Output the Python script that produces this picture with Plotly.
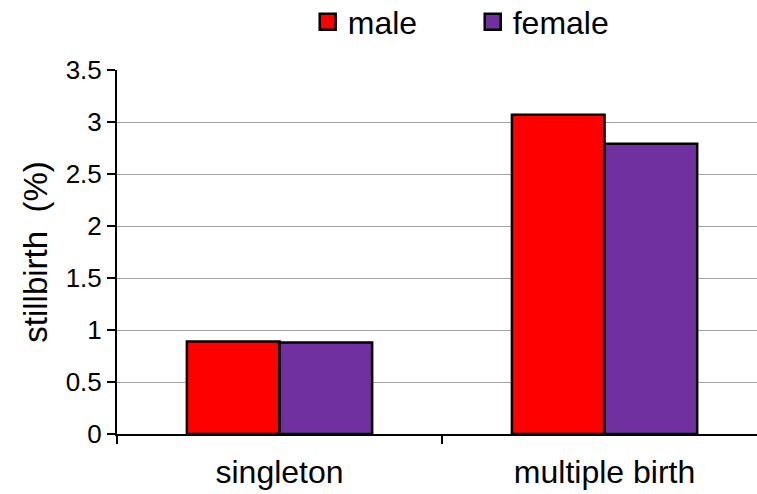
import plotly.graph_objects as go

categories = ["singleton", "multiple birth"]
series_names = ["male", "female"]
male = [0.89, 3.07]
female = [0.88, 2.79]
colors = ["#FF0000", "#7030A0"]
y_ticks = [0, 0.5, 1, 1.5, 2, 2.5, 3, 3.5]
y_tick_labels = ["0", "0.5", "1", "1.5", "2", "2.5", "3", "3.5"]

fig = go.Figure()
for name, vals, col in zip(series_names, [male, female], colors):
    fig.add_trace(go.Bar(name=name, x=categories, y=vals, showlegend=False,
                         marker=dict(color=col, line=dict(color="black", width=2.5))))
# legend entries (square swatches with black outline)
for name, col in zip(series_names, colors):
    fig.add_trace(go.Scatter(name=name, x=[None], y=[None], mode="markers",
                             marker=dict(symbol="square", size=17, color=col,
                                         line=dict(color="black", width=2.5))))

fig.update_layout(
    width=757, height=494,
    margin=dict(l=117, r=0, t=70, b=60, autoexpand=False),
    paper_bgcolor="white", plot_bgcolor="white",
    barmode="group", bargap=0.43, bargroupgap=0,
    font=dict(family="Liberation Sans, Arial, sans-serif", color="black", size=26),
    showlegend=True,
    legend=dict(orientation="h", x=0.298, xanchor="left", y=1.132, yanchor="middle",
                font=dict(size=32), itemwidth=30, entrywidth=120, traceorder="normal",
                bgcolor="rgba(0,0,0,0)"),
    xaxis=dict(range=[-0.5, 1.469], showline=True, linecolor="black", linewidth=2,
               ticks="outside", tickson="boundaries", ticklen=8, tickwidth=2, tickcolor="black",
               tickfont=dict(size=32), ticklabelstandoff=9, showgrid=False, automargin=False),
    yaxis=dict(range=[0, 3.5], tickvals=y_ticks, ticktext=y_tick_labels, showline=True,
               linecolor="black", linewidth=2, ticks="outside", ticklen=8, tickwidth=2,
               tickcolor="black", showgrid=True, gridcolor="#A6A6A6", gridwidth=1,
               tickfont=dict(size=26), zeroline=False, automargin=False,
               title=dict(text="stillbirth  (%)", font=dict(size=33), standoff=8)),
)
fig.write_html("out.html", config={"displayModeBar": False},
               post_script="document.body.style.margin='0';document.body.style.overflow='hidden';")
